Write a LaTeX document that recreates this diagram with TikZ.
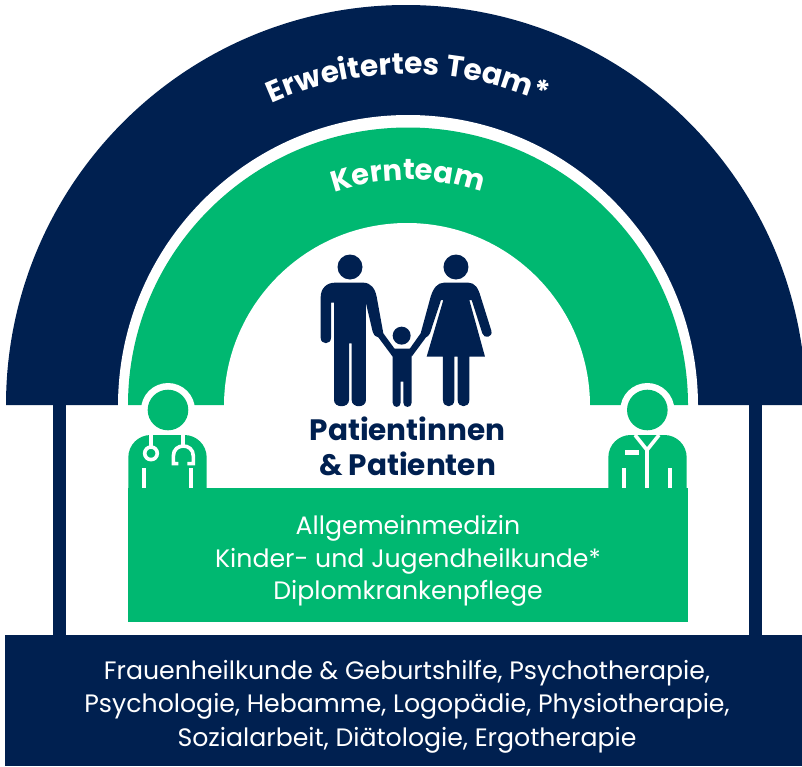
\documentclass[tikz,border=0pt]{standalone}
\usepackage{fontspec}
\setmainfont{Poppins}
\usetikzlibrary{decorations.text}
\definecolor{navy}{RGB}{0,32,80}
\definecolor{grn}{RGB}{0,184,113}
\tikzset{
  bodytext/.style={text=white,font=\fontsize{25.2}{25.2}\selectfont,inner sep=0pt,anchor=center},
  pattext/.style={text=navy,font=\fontsize{29.5}{29.5}\selectfont\bfseries,inner sep=0pt,anchor=center},
  whiteline/.style={draw=white,line width=4pt},
}
\begin{document}
\begin{tikzpicture}[x=1pt,y=-1pt]
\clip (0,0) rectangle (802,766);
\fill[white] (0,0) rectangle (802,766);
% arches
\fill[navy] (6,405) arc[start angle=180,end angle=0,radius=400pt] -- cycle;
\fill[white] (118,406) arc[start angle=180,end angle=0,x radius=290pt,y radius=291pt] -- cycle;
\fill[grn] (128,405) arc[start angle=180,end angle=0,x radius=280pt,y radius=277.5pt] -- cycle;
\fill[white] (224,406) arc[start angle=180,end angle=0,x radius=183pt,y radius=183pt] -- cycle;
% pillars and bands
\fill[navy] (53,405) rectangle (66,636);
\fill[navy] (749,405) rectangle (762,636);
\fill[navy] (5,635) rectangle (802,766);
\fill[grn] (128,488) rectangle (688,622);
% curved labels
\path[decorate,decoration={text along path,text color=white,text align=center,
  text={|\fontsize{29.6}{29.6}\selectfont\bfseries|Erweitertes Team*}}]
  (408,405) ++(156:331pt) arc[start angle=156,end angle=24,radius=331pt];
\path[decorate,decoration={text along path,text color=white,text align=center,
  text={|\fontsize{29}{29}\selectfont\bfseries|Kernteam}}]
  (408,405) ++(135:225pt) arc[start angle=135,end angle=45,radius=225pt];
% family
\begin{scope}[shift={(300,240)},x=0.3333pt,y=-0.3333pt]
\fill[navy] (150,81) circle[radius=12.5pt];
\fill[navy] (468,81) circle[radius=12.5pt];
\fill[navy] (305,287) circle[radius=9pt];
% man
\fill[navy] (62,172) .. controls (62,145) and (80,128) .. (105,128) -- (190,128)
  .. controls (212,128) and (225,145) .. (230,170) -- (250,280) -- (285,328) -- (278,350) -- (235,292)
  .. controls (225,288) and (220,285) .. (218,275) -- (198,190) -- (198,480)
  .. controls (198,505) and (155,505) .. (155,480) -- (155,310) -- (147,310) -- (147,480)
  .. controls (147,505) and (102,505) .. (102,480) -- (102,188) -- (93,188) -- (93,293)
  .. controls (93,315) and (62,315) .. (62,293) -- cycle;
% child
\fill[navy] (278,326) -- (335,326) -- (335,488) .. controls (335,505) and (310,505) .. (310,488)
  -- (310,425) -- (302,425) -- (302,488) .. controls (302,505) and (278,505) .. (278,488) -- cycle;
% woman
\fill[navy] (392,170) .. controls (400,145) and (412,128) .. (432,128) -- (505,128)
  .. controls (525,128) and (535,145) .. (542,170) -- (574,272)
  .. controls (580,292) and (552,298) .. (547,280) -- (515,180) -- (508,180) -- (555,350)
  -- (508,350) -- (508,480) .. controls (508,505) and (473,505) .. (473,480) -- (473,350)
  -- (463,350) -- (463,480) .. controls (463,505) and (429,505) .. (429,480) -- (429,350)
  -- (380,350) -- (430,180) -- (423,180) -- (390,280) .. controls (386,288) and (382,290) .. (378,292)
  -- (335,350) -- (328,328) -- (362,280) -- cycle;
\end{scope}
% left doctor
\begin{scope}[shift={(110,370)},x=0.3333pt,y=-0.3333pt]
\fill[white] (174,120) circle[radius=27pt];
\fill[grn] (174,120) circle[radius=20.3pt];
\fill[grn] (55,356) -- (55,262) .. controls (55,225) and (85,195) .. (122,195) -- (223,195)
  .. controls (260,195) and (290,225) .. (290,262) -- (290,356) -- cycle;
\draw[whiteline] (123,195) -- (123,232);
\draw[white,line width=3.6pt] (123,250) circle[radius=6.3pt];
\draw[whiteline] (220,195) -- (220,226);
\draw[white,line width=3.6pt] (205,281) -- (190,281) -- (190,258)
  .. controls (190,218) and (250,218) .. (250,258) -- (250,281) -- (232,281);
\draw[whiteline] (103,295) -- (103,354);
\draw[whiteline] (242,295) -- (242,354);
\end{scope}
% right doctor
\begin{scope}[shift={(590,370)},x=0.3333pt,y=-0.3333pt]
\fill[white] (172,120) circle[radius=27pt];
\fill[grn] (172,120) circle[radius=20.3pt];
\fill[grn] (55,356) -- (55,262) .. controls (55,225) and (85,195) .. (122,195) -- (223,195)
  .. controls (260,195) and (290,225) .. (290,262) -- (290,356) -- cycle;
\draw[white,line width=3.6pt] (135,195) -- (171,240) -- (207,195);
\draw[whiteline] (170,240) -- (170,354);
\fill[white] (106,240) rectangle (148,255);
\draw[whiteline] (102,295) -- (102,354);
\draw[whiteline] (241,295) -- (241,354);
\end{scope}
% texts
\node[pattext] (p1) at (407.5,429) {Patientinnen};
\node[pattext] (p2) at (407.5,464) {\& Patienten};
\node[bodytext] (g1) at (408,528) {Allgemeinmedizin};
\node[bodytext] (g2) at (408,561) {Kinder- und Jugendheilkunde*};
\node[bodytext] (g3) at (408,593) {Diplomkrankenpflege};
\node[bodytext] (b1) at (407,673) {Frauenheilkunde \& Geburtshilfe, Psychotherapie,};
\node[bodytext] (b2) at (407,706) {Psychologie, Hebamme, Logopädie, Physiotherapie,};
\node[bodytext] (b3) at (407,740) {Sozialarbeit, Diätologie, Ergotherapie};
\end{tikzpicture}
\end{document}
